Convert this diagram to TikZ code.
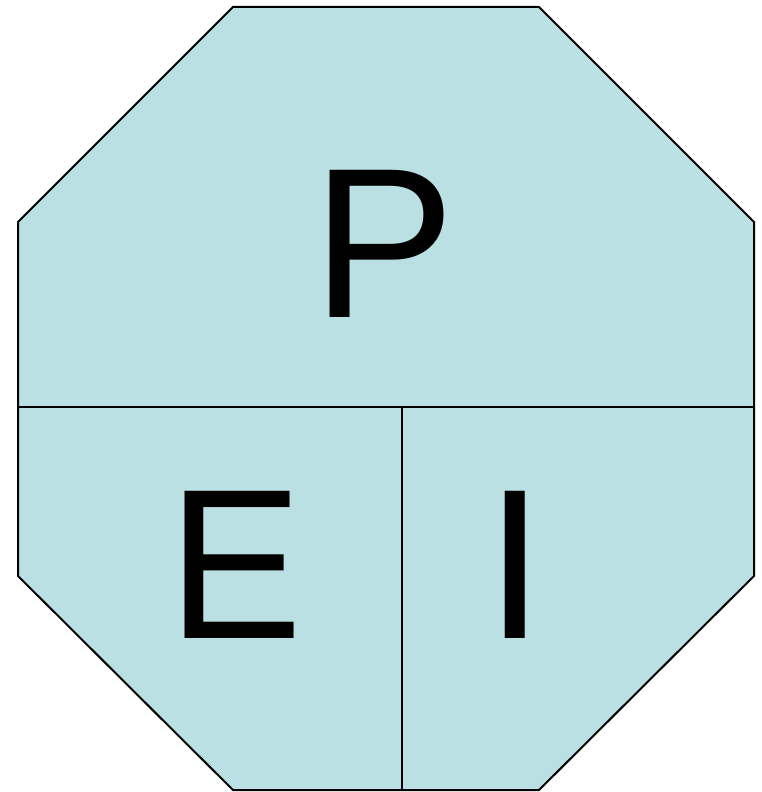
\documentclass[tikz,border=0pt]{standalone}
\usepackage{fontspec}
\setmainfont{Liberation Sans}
\definecolor{octfill}{HTML}{BBE0E3}
\begin{document}
\begin{tikzpicture}[x=1pt,y=-1pt,
  letter/.style={inner sep=0pt,font=\fontsize{214}{214}\selectfont}]
\useasboundingbox (0,0) rectangle (761,792);
\coordinate (v1) at (233,7);
\coordinate (v2) at (539,7);
\coordinate (v3) at (754,222);
\coordinate (v4) at (754,576);
\coordinate (v5) at (539,790);
\coordinate (v6) at (233,790);
\coordinate (v7) at (18,576);
\coordinate (v8) at (18,222);
\coordinate (hl) at (18,407);
\coordinate (hr) at (754,407);
\coordinate (vt) at (402,407);
\coordinate (vb) at (402,790);
\draw[line width=2pt,fill=octfill,line join=miter] (v1) -- (v2) -- (v3) -- (v4) -- (v5) -- (v6) -- (v7) -- (v8) -- cycle;
\draw[line width=2pt] (hl) -- (hr);
\draw[line width=2pt] (vt) -- (vb);
\node[letter] (P) at (384,244) {P};
\node[letter,xscale=0.94] (E) at (236,565) {E};
\node[letter] (I) at (515,565) {I};
\end{tikzpicture}
\end{document}
